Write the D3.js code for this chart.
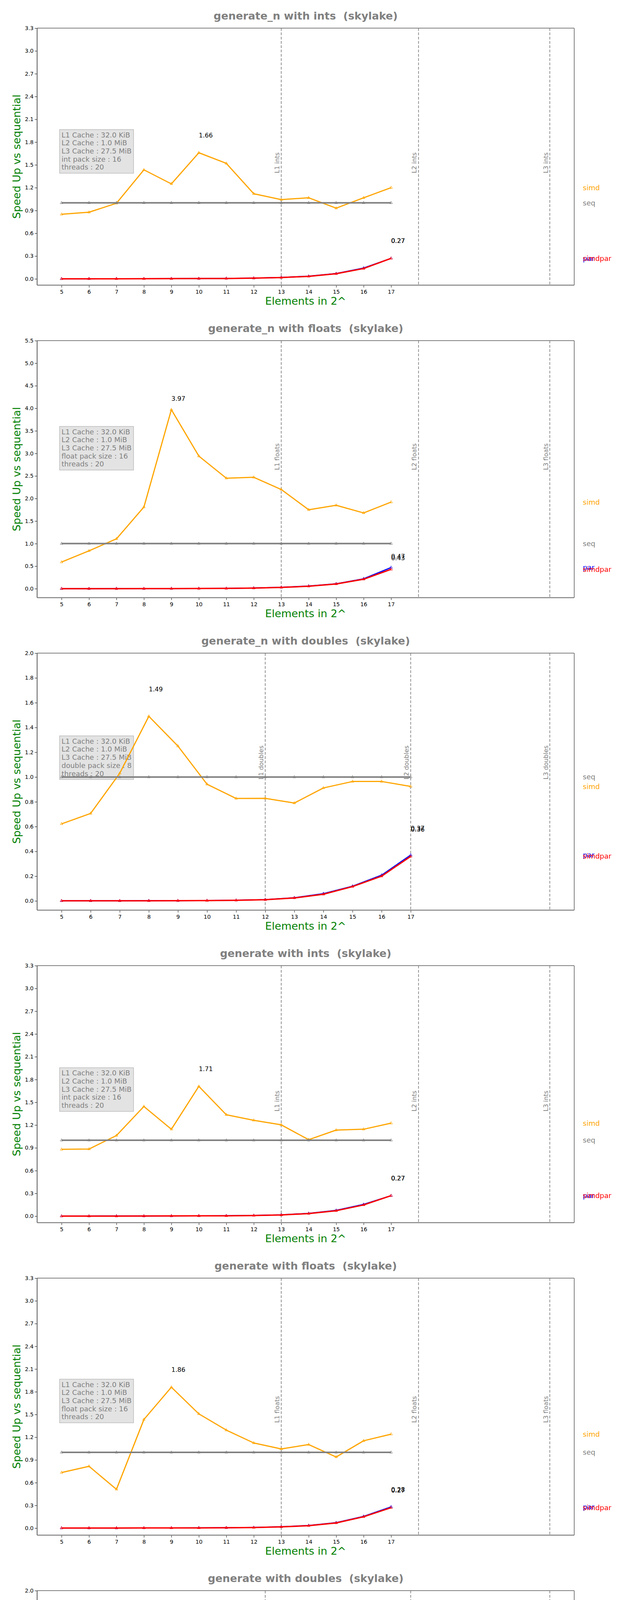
<!DOCTYPE html>
<html>
<head>
<meta charset="utf-8">
<script src="https://cdn.jsdelivr.net/npm/d3@7"></script>
<style>
  body { margin: 0; background: #fff; }
  text { font-family: "DejaVu Sans", sans-serif; }
</style>
</head>
<body>
<div id="chart"></div>
<script>
// x values: log2 of element count
var sizes = [5, 6, 7, 8, 9, 10, 11, 12, 13, 14, 15, 16, 17];

var titles = [
    'generate_n with ints  (skylake)',
    'generate_n with floats  (skylake)',
    'generate_n with doubles  (skylake)',
    'generate with ints  (skylake)',
    'generate with floats  (skylake)',
    'generate with doubles  (skylake)'
];
var typeNames = ['ints', 'floats', 'doubles', 'ints', 'floats', 'doubles'];
var packSizes = ['int pack size : 16', 'float pack size : 16', 'double pack size : 8',
                 'int pack size : 16', 'float pack size : 16', 'double pack size : 8'];
var cacheInfo = ['L1 Cache : 32.0 KiB', 'L2 Cache : 1.0 MiB', 'L3 Cache : 27.5 MiB'];
var threadsInfo = 'threads : 20';

// cache sizes in 2^ elements: L1, L2, L3
var cacheLines = [
    [13, 18, 22.78], [13, 18, 22.78], [12, 17, 21.78],
    [13, 18, 22.78], [13, 18, 22.78], [12, 17, 21.78]
];
var cacheLabelY = [1.39, 2.63, 0.98, 1.38, 1.39, 0.98];

var yTicks = [
    [0, 0.3, 0.6, 0.9, 1.2, 1.5, 1.8, 2.1, 2.4, 2.7, 3.0, 3.3],
    [0, 0.5, 1.0, 1.5, 2.0, 2.5, 3.0, 3.5, 4.0, 4.5, 5.0, 5.5],
    [0, 0.2, 0.4, 0.6, 0.8, 1.0, 1.2, 1.4, 1.6, 1.8, 2.0],
    [0, 0.3, 0.6, 0.9, 1.2, 1.5, 1.8, 2.1, 2.4, 2.7, 3.0, 3.3],
    [0, 0.3, 0.6, 0.9, 1.2, 1.5, 1.8, 2.1, 2.4, 2.7, 3.0, 3.3],
    [0, 0.2, 0.4, 0.6, 0.8, 1.0, 1.2, 1.4, 1.6, 1.8, 2.0]
];

var seqValues = [1, 1, 1, 1, 1, 1, 1, 1, 1, 1, 1, 1, 1];

var simdValues = [
    [0.85, 0.877, 0.995, 1.435, 1.25, 1.66, 1.52, 1.12, 1.043, 1.067, 0.93, 1.067, 1.20],
    [0.59, 0.84, 1.105, 1.81, 3.97, 2.94, 2.45, 2.47, 2.20, 1.75, 1.85, 1.68, 1.92],
    [0.622, 0.706, 1.03, 1.49, 1.25, 0.942, 0.827, 0.828, 0.79, 0.912, 0.964, 0.964, 0.924],
    [0.88, 0.884, 1.062, 1.445, 1.145, 1.71, 1.336, 1.263, 1.203, 1.007, 1.134, 1.145, 1.225],
    [0.733, 0.816, 0.512, 1.434, 1.86, 1.508, 1.294, 1.124, 1.045, 1.103, 0.939, 1.153, 1.24],
    [0.708, 0.924, 1.11, 1.074, 1.031, 1.06, 0.757, 0.764, 0.804, 0.883, 0.978, 0.913, 0.936]
];
var parValues = [
    [0.001, 0.001, 0.002, 0.002, 0.003, 0.004, 0.006, 0.01, 0.019, 0.035, 0.07, 0.142, 0.27],
    [0.001, 0.001, 0.002, 0.002, 0.003, 0.005, 0.008, 0.015, 0.03, 0.06, 0.11, 0.22, 0.47],
    [0.001, 0.001, 0.001, 0.002, 0.002, 0.003, 0.006, 0.011, 0.026, 0.059, 0.119, 0.208, 0.37],
    [0.001, 0.001, 0.002, 0.002, 0.003, 0.004, 0.006, 0.01, 0.018, 0.037, 0.077, 0.155, 0.27],
    [0.001, 0.001, 0.001, 0.002, 0.003, 0.004, 0.005, 0.009, 0.018, 0.035, 0.072, 0.155, 0.28],
    [0.001, 0.001, 0.001, 0.002, 0.002, 0.004, 0.007, 0.014, 0.03, 0.064, 0.121, 0.208, 0.39]
];
var simdparValues = [
    [0.001, 0.001, 0.001, 0.002, 0.003, 0.004, 0.005, 0.009, 0.017, 0.033, 0.067, 0.136, 0.27],
    [0.001, 0.001, 0.001, 0.002, 0.003, 0.004, 0.007, 0.013, 0.028, 0.055, 0.105, 0.21, 0.43],
    [0.001, 0.001, 0.001, 0.001, 0.002, 0.003, 0.005, 0.01, 0.024, 0.054, 0.116, 0.2, 0.36],
    [0.001, 0.001, 0.001, 0.002, 0.003, 0.004, 0.005, 0.009, 0.016, 0.034, 0.072, 0.148, 0.27],
    [0.001, 0.001, 0.001, 0.002, 0.002, 0.003, 0.005, 0.008, 0.016, 0.032, 0.068, 0.15, 0.27],
    [0.001, 0.001, 0.001, 0.002, 0.002, 0.003, 0.006, 0.012, 0.027, 0.06, 0.118, 0.195, 0.38]
];

var seriesNames = ['simd', 'seq', 'par', 'simdpar'];
var seriesColors = {simd: '#ffa500', seq: '#808080', par: '#0000ff', simdpar: '#ff0000'};
var seriesWidths = {simd: 3, seq: 4, par: 3, simdpar: 3.5};

var width = 1600;
var panelHeight = 800;
var margin = {top: 72, right: 130, bottom: 70, left: 95};
var axesBottom = 730;

var svg = d3.select('#chart')
    .append('svg')
    .attr('width', width)
    .attr('height', panelHeight * titles.length)
    .style('display', 'block');

titles.forEach(function(title, i) {
    var g = svg.append('g').attr('transform', 'translate(0,' + (i * panelHeight) + ')');

    var lines = cacheLines[i];
    var xSpan = lines[2] - sizes[0];
    var x = d3.scaleLinear()
        .domain([sizes[0] - 0.05 * xSpan, lines[2] + 0.05 * xSpan])
        .range([margin.left, width - margin.right]);

    var ticks = yTicks[i];
    var maxData = d3.max(simdValues[i].concat(parValues[i], simdparValues[i]));
    var y = d3.scaleLinear()
        .domain([-0.05 * maxData, ticks[ticks.length - 1]])
        .range([axesBottom, margin.top]);

    // title
    g.append('text')
        .attr('x', (margin.left + width - margin.right) / 2)
        .attr('y', 50)
        .attr('text-anchor', 'middle')
        .attr('font-size', 27)
        .attr('font-weight', 'bold')
        .attr('fill', '#808080')
        .style('white-space', 'pre')
        .text(title);

    // axes
    g.append('g')
        .attr('transform', 'translate(0,' + axesBottom + ')')
        .call(d3.axisBottom(x).tickValues(sizes).tickFormat(d3.format('d')).tickSizeOuter(0))
        .call(function(a) {
            a.select('.domain').remove();
            a.selectAll('text').attr('font-size', 14).attr('fill', '#000').attr('dy', '0.9em');
        });
    g.append('g')
        .attr('transform', 'translate(' + margin.left + ',0)')
        .call(d3.axisLeft(y).tickValues(ticks).tickFormat(d3.format('.1f')).tickSizeOuter(0))
        .call(function(a) {
            a.select('.domain').remove();
            a.selectAll('text').attr('font-size', 14).attr('fill', '#000');
        });

    // frame
    g.append('line').attr('x1', margin.left).attr('x2', margin.left)
        .attr('y1', margin.top).attr('y2', axesBottom).attr('stroke', '#222').attr('stroke-width', 1.5);
    g.append('line').attr('x1', margin.left).attr('x2', width - margin.right)
        .attr('y1', axesBottom).attr('y2', axesBottom).attr('stroke', '#808080').attr('stroke-width', 2.5);
    g.append('line').attr('x1', margin.left).attr('x2', width - margin.right)
        .attr('y1', margin.top).attr('y2', margin.top).attr('stroke', '#555').attr('stroke-width', 1.5);
    g.append('line').attr('x1', width - margin.right).attr('x2', width - margin.right)
        .attr('y1', margin.top).attr('y2', axesBottom).attr('stroke', '#808080').attr('stroke-width', 2);

    // axis labels
    g.append('text')
        .attr('x', (margin.left + width - margin.right) / 2)
        .attr('y', 780)
        .attr('text-anchor', 'middle')
        .attr('font-size', 27)
        .attr('fill', '#008000')
        .text('Elements in 2^');
    g.append('text')
        .attr('transform', 'translate(52,' + ((margin.top + axesBottom) / 2) + ') rotate(-90)')
        .attr('text-anchor', 'middle')
        .attr('font-size', 27)
        .attr('fill', '#008000')
        .text('Speed Up vs sequential');

    // cache lines
    lines.forEach(function(c, k) {
        g.append('line')
            .attr('x1', x(c)).attr('x2', x(c))
            .attr('y1', margin.top).attr('y2', axesBottom)
            .attr('stroke', '#707070').attr('stroke-width', 1.5)
            .attr('stroke-dasharray', '7,4');
        g.append('text')
            .attr('transform', 'translate(' + (x(c) - 5) + ',' + y(cacheLabelY[i]) + ') rotate(-90)')
            .attr('font-size', 16)
            .attr('fill', '#808080')
            .text('L' + (k + 1) + ' ' + typeNames[i]);
    });

    // info box
    var infoLines = cacheInfo.concat([packSizes[i], threadsInfo]);
    var box = g.append('g');
    var rect = box.append('rect');
    var tx = x(sizes[0]);
    var bottomY = y(cacheLabelY[i]);
    var lineH = 20.7;
    var txt = box.append('text').attr('font-size', 18).attr('fill', '#808080');
    infoLines.forEach(function(s, k) {
        txt.append('tspan')
            .attr('x', tx)
            .attr('y', bottomY - 9 - (infoLines.length - 1 - k) * lineH)
            .text(s);
    });
    var bb = txt.node().getBBox();
    rect.attr('x', bb.x - 5).attr('y', bb.y - 3)
        .attr('width', bb.width + 10).attr('height', bottomY - bb.y + 3)
        .attr('fill', '#d9d9d9').attr('fill-opacity', 0.75)
        .attr('stroke', '#bbbbbb').attr('stroke-width', 1.5);

    // series
    var data = {simd: simdValues[i], seq: seqValues, par: parValues[i], simdpar: simdparValues[i]};
    var line = d3.line()
        .x(function(d, k) { return x(sizes[k]); })
        .y(function(d) { return y(d); });
    var tri = d3.symbol().type(d3.symbolTriangle).size(22);

    ['simd', 'seq', 'par', 'simdpar'].forEach(function(name) {
        var vals = data[name];
        g.append('path')
            .datum(vals)
            .attr('d', line)
            .attr('fill', 'none')
            .attr('stroke', seriesColors[name])
            .attr('stroke-width', seriesWidths[name])
            .attr('stroke-linejoin', 'round');
        g.selectAll('.m-' + name)
            .data(vals)
            .enter()
            .append('path')
            .attr('d', tri)
            .attr('transform', function(d, k) { return 'translate(' + x(sizes[k]) + ',' + y(d) + ')'; })
            .attr('fill', 'none')
            .attr('stroke', seriesColors[name])
            .attr('stroke-width', 1);
    });

    // right-hand labels
    seriesNames.forEach(function(name) {
        var vals = data[name];
        g.append('text')
            .attr('x', width - margin.right + 22)
            .attr('y', y(vals[vals.length - 1]))
            .attr('dy', '0.35em')
            .attr('font-size', 18)
            .attr('fill', seriesColors[name])
            .text(name);
    });

    // value annotations, 0.2 above the point
    var simd = simdValues[i];
    var peak = d3.maxIndex(simd);
    var notes = [[sizes[peak], simd[peak]],
                 [sizes[sizes.length - 1], parValues[i][sizes.length - 1]],
                 [sizes[sizes.length - 1], simdparValues[i][sizes.length - 1]]];
    notes.forEach(function(n) {
        g.append('text')
            .attr('x', x(n[0]))
            .attr('y', y(n[1] + 0.2))
            .attr('font-size', 16)
            .attr('fill', '#000')
            .text(n[1].toFixed(2));
    });
});
</script>
</body>
</html>
